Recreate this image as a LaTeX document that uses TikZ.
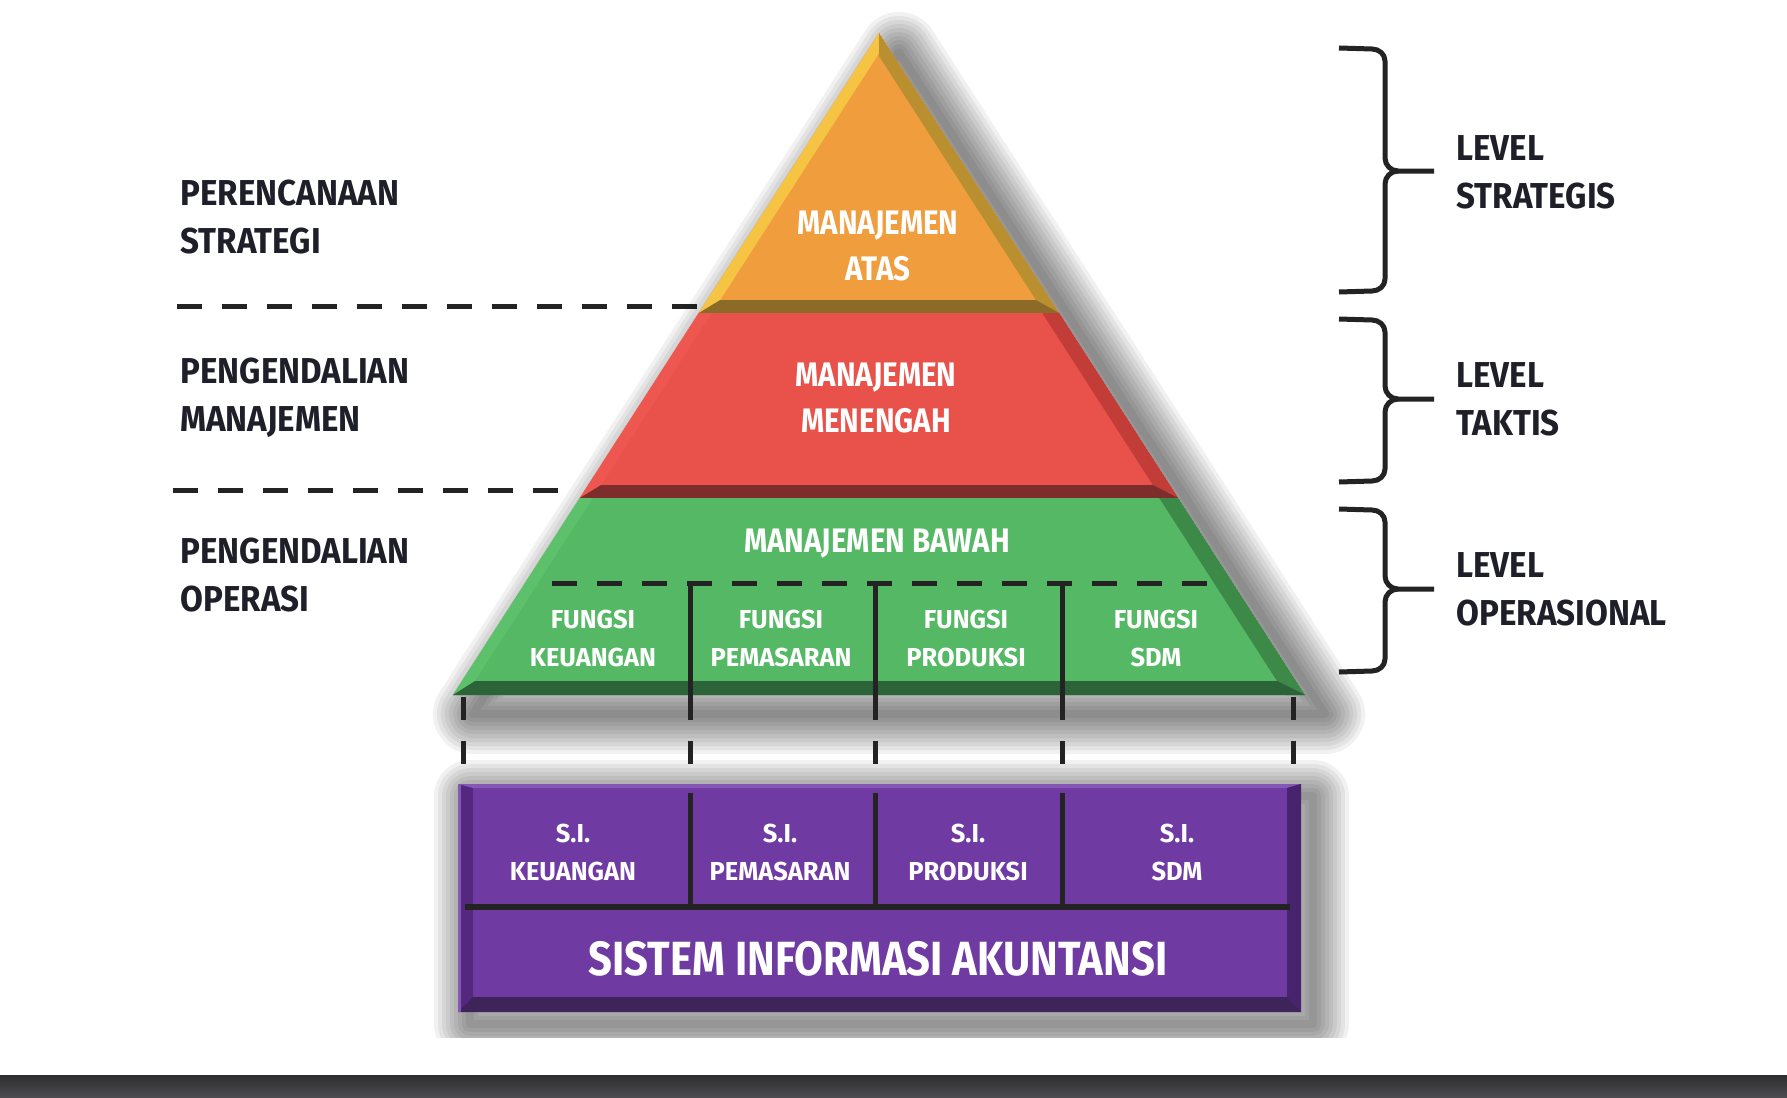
\documentclass[tikz,border=0pt]{standalone}
\usepackage{fontspec}
\setmainfont[FakeStretch=0.92]{Fira Sans}
\newfontfamily\tierfont[FakeStretch=0.87]{Fira Sans}
\newfontfamily\cellfont[FakeStretch=0.98]{Fira Sans}
\usepackage{tikz}
\pgfdeclarelayer{edgelayer}
\pgfdeclarelayer{nodelayer}
\pgfsetlayers{edgelayer,nodelayer,main}
\definecolor{inkdark}{HTML}{1F1F29}
\definecolor{linedark}{HTML}{232323}
\definecolor{orangefill}{HTML}{F09D3E}
\definecolor{orangeleft}{HTML}{F5C443}
\definecolor{orangeright}{HTML}{B98F2F}
\definecolor{orangeband}{HTML}{8C6B29}
\definecolor{redfill}{HTML}{E9524B}
\definecolor{redleft}{HTML}{EE5650}
\definecolor{redright}{HTML}{C23C38}
\definecolor{redband}{HTML}{7E2D2D}
\definecolor{greenfill}{HTML}{55B865}
\definecolor{greenleft}{HTML}{5DC06B}
\definecolor{greenright}{HTML}{3D8A48}
\definecolor{greenband}{HTML}{2C6339}
\definecolor{purplefill}{HTML}{6F3AA2}
\definecolor{purpleleft}{HTML}{54287E}
\definecolor{purpletop}{HTML}{8658B6}
\definecolor{purpleright}{HTML}{48246F}
\definecolor{purpleband}{HTML}{3E2459}
\definecolor{bartop}{HTML}{2E2E30}
\definecolor{barbottom}{HTML}{4C4C50}
\tikzstyle{none}=[inner sep=0pt]
\tikzstyle{sidelabel}=[inner sep=0pt, anchor=west, align=left, text=inkdark, font=\bfseries\fontsize{18}{24}\selectfont]
\tikzstyle{tierlabel}=[inner sep=0pt, align=center, text=white, font=\tierfont\bfseries\fontsize{17}{23}\selectfont]
\tikzstyle{cell}=[inner sep=0pt, align=center, text=white, font=\cellfont\bfseries\fontsize{13}{19}\selectfont]
\tikzstyle{divider}=[draw=linedark, line width=2.5pt, dash pattern=on 12.5pt off 10pt]
\tikzstyle{post}=[draw=linedark, line width=2.6pt]
\tikzstyle{brace}=[draw=linedark, line width=2.5pt, line join=round]
\tikzstyle{softshadow}=[draw=black, draw opacity=0.055, line join=round]

\begin{document}
\begin{tikzpicture}[x=0.5pt, y=-0.5pt]
	\useasboundingbox (0,0) rectangle (1787,1097);
	\begin{pgfonlayer}{nodelayer}
		\node [style=sidelabel] (0) at (180, 217) {PERENCANAAN\\STRATEGI};
		\node [style=sidelabel] (1) at (180, 398) {PENGENDALIAN\\MANAJEMEN};
		\node [style=sidelabel] (2) at (180, 575.5) {PENGENDALIAN\\OPERASI};
		\node [style=sidelabel] (3) at (1456, 172) {LEVEL\\STRATEGIS};
		\node [style=sidelabel] (4) at (1456, 399) {LEVEL\\TAKTIS};
		\node [style=sidelabel] (5) at (1456, 589) {LEVEL\\OPERASIONAL};
		\node [style=tierlabel] (6) at (878, 246) {MANAJEMEN\\ATAS};
		\node [style=tierlabel] (7) at (876, 398) {MANAJEMEN\\MENENGAH};
		\node [style=tierlabel] (8) at (877, 544) {MANAJEMEN BAWAH};
		\node [style=cell] (9) at (593, 638) {FUNGSI\\KEUANGAN};
		\node [style=cell] (10) at (781, 638) {FUNGSI\\PEMASARAN};
		\node [style=cell] (11) at (966, 638) {FUNGSI\\PRODUKSI};
		\node [style=cell] (12) at (1156, 638) {FUNGSI\\SDM};
		\node [style=cell] (13) at (573, 852) {S.I.\\KEUANGAN};
		\node [style=cell] (14) at (780, 852) {S.I.\\PEMASARAN};
		\node [style=cell] (15) at (968, 852) {S.I.\\PRODUKSI};
		\node [style=cell] (16) at (1177, 852) {S.I.\\SDM};
		\node [style=tierlabel, font=\tierfont\bfseries\fontsize{24}{28}\selectfont] (17) at (878, 958.5) {SISTEM INFORMASI AKUNTANSI};
	\end{pgfonlayer}
	\begin{pgfonlayer}{edgelayer}
		\fill [white] (0,0) rectangle (1787,1097);
		\shade [top color=bartop, bottom color=barbottom] (0,1075) rectangle (1787,1097);
		\draw [style=divider] (177, 306) -- (700, 306);
		\draw [style=divider] (173, 490) -- (562, 490);
		\begin{scope}
			\clip (0,0) rectangle (1787,1037);
			\foreach \w in {4,8,...,40}
				\draw [style=softshadow, line width=\w pt] (899,52) -- (1325,714) -- (473,714) -- cycle;
			\foreach \w in {4,8,...,36}
				\draw [style=softshadow, line width=\w pt] (470,796) rectangle (1313,1024);
		\end{scope}
		\begin{scope}
			\clip (879,33) -- (1059.2,313) -- (698.8,313) -- cycle;
			\fill [orangefill] (690,30) rectangle (1070,315);
			\fill [orangeleft] (879,33) -- (453,695) -- (466,695) -- (879,53.2) -- cycle;
			\fill [orangeright] (879,33) -- (1305,695) -- (1290,695) -- (879,56) -- cycle;
			\fill [orangeband] (698.8,313) -- (1059.2,313) -- (1035.8,300) -- (720.2,300) -- cycle;
		\end{scope}
		\begin{scope}
			\clip (698.8,313) -- (1059.2,313) -- (1178.2,498) -- (579.8,498) -- cycle;
			\fill [redfill] (570,310) rectangle (1190,500);
			\fill [redleft] (879,33) -- (453,695) -- (466,695) -- (879,53.2) -- cycle;
			\fill [redright] (879,33) -- (1305,695) -- (1288,695) -- (879,59.4) -- cycle;
			\fill [redband] (579.8,498) -- (1178.2,498) -- (1152.9,485) -- (601.1,485) -- cycle;
		\end{scope}
		\begin{scope}
			\clip (579.8,498) -- (1178.2,498) -- (1305,695) -- (453,695) -- cycle;
			\fill [greenfill] (450,495) rectangle (1310,700);
			\fill [greenleft] (879,33) -- (453,695) -- (466,695) -- (879,53.2) -- cycle;
			\fill [greenright] (879,33) -- (1305,695) -- (1286,695) -- (879,62.5) -- cycle;
			\fill [greenband] (453,695) -- (1305,695) -- (1277,681) -- (475,681) -- cycle;
		\end{scope}
		\draw [style=divider] (552, 583.5) -- (1212, 583.5);
		\draw [style=post] (690.6, 583.5) -- (690.6, 720);
		\draw [style=post] (875.3, 583.5) -- (875.3, 720);
		\draw [style=post] (1062.2, 583.5) -- (1062.2, 720);
		\draw [style=post] (463.8, 697) -- (463.8, 720);
		\draw [style=post] (1293.5, 697) -- (1293.5, 720);
		\draw [style=post] (463.8, 741) -- (463.8, 764);
		\draw [style=post] (690.6, 741) -- (690.6, 764);
		\draw [style=post] (875.3, 741) -- (875.3, 764);
		\draw [style=post] (1062.2, 741) -- (1062.2, 764);
		\draw [style=post] (1293.5, 741) -- (1293.5, 764);
		\fill [purpleleft] (458,784) rectangle (1301,1012);
		\fill [purplefill] (473,788) rectangle (1287,997);
		\fill [purpletop] (458,784) -- (1301,784) -- (1287,788) -- (473,788) -- cycle;
		\fill [purpleright] (1301,784) -- (1301,1012) -- (1287,997) -- (1287,788) -- cycle;
		\fill [purpleband] (458,1012) -- (1301,1012) -- (1287,997) -- (473,997) -- cycle;
		\fill [purpletop] (458,784) rectangle (461,1012);
		\draw [style=post] (465, 907) -- (1290, 907);
		\draw [style=post] (690.6, 793) -- (690.6, 907);
		\draw [style=post] (875.3, 793) -- (875.3, 907);
		\draw [style=post] (1062.2, 793) -- (1062.2, 907);
		\draw [style=brace] (1339,48) -- (1372,49) to[out=0,in=90] (1385,61) -- (1385,158) to[out=-90,in=180] (1398,171) -- (1434,171);
		\draw [style=brace] (1339,292) -- (1372,291) to[out=0,in=-90] (1385,279) -- (1385,184) to[out=90,in=180] (1398,171);
		\draw [style=brace] (1339,319) -- (1372,320) to[out=0,in=90] (1385,332) -- (1385,386) to[out=-90,in=180] (1398,399) -- (1434,399);
		\draw [style=brace] (1339,482) -- (1372,481) to[out=0,in=-90] (1385,469) -- (1385,412) to[out=90,in=180] (1398,399);
		\draw [style=brace] (1339,509) -- (1372,510) to[out=0,in=90] (1385,522) -- (1385,576) to[out=-90,in=180] (1398,589) -- (1434,589);
		\draw [style=brace] (1339,672) -- (1372,671) to[out=0,in=-90] (1385,659) -- (1385,602) to[out=90,in=180] (1398,589);
	\end{pgfonlayer}
\end{tikzpicture}
\end{document}
